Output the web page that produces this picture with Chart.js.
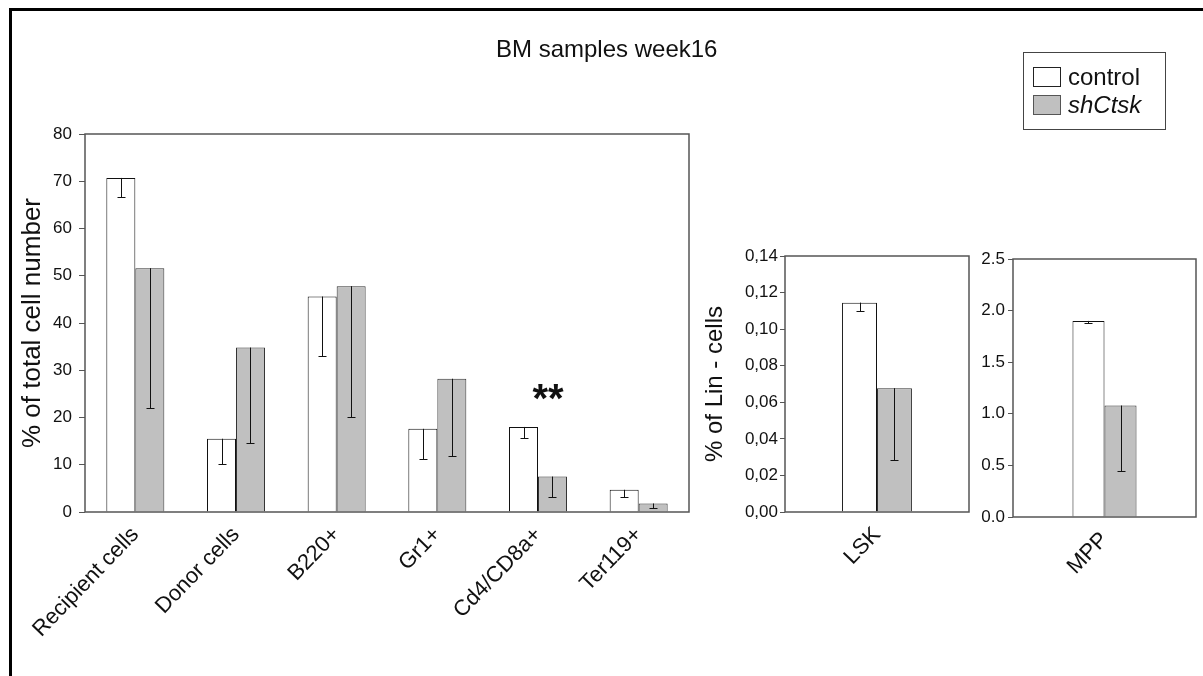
<!DOCTYPE html>
<html>
<head>
<meta charset="utf-8">
<script src="https://cdn.jsdelivr.net/npm/chart.js@4.4.0/dist/chart.umd.min.js"></script>
<style>
  html, body { margin: 0; padding: 0; background: #fff; }
  #page { position: relative; width: 1203px; height: 676px; overflow: hidden; font-family: "Liberation Sans", Arial, sans-serif; color: #111; }
  .layer { position: absolute; left: 0; top: 0; width: 1203px; height: 676px; }
  #frame { position: absolute; left: 9px; top: 8px; right: -5px; bottom: -5px; border-left: 3px solid #000; border-top: 3px solid #000; }
  #title { position: absolute; left: 496px; top: 37px; font-size: 24px; line-height: 1; white-space: nowrap; }
  #legend { position: absolute; left: 1023px; top: 52px; width: 143px; height: 78px; border: 1px solid #444; box-sizing: border-box; }
  .sw { position: absolute; left: 9px; width: 28px; height: 20px; box-sizing: border-box; border: 1px solid #222; }
  .lt { position: absolute; left: 44px; font-size: 24px; line-height: 1; white-space: nowrap; }
</style>
</head>
<body>
<div id="page">
  <div id="frame"></div>
  <div class="layer"><canvas id="mainChart" width="1203" height="676"></canvas></div>
  <div class="layer"><canvas id="lskChart" width="1203" height="676"></canvas></div>
  <div class="layer"><canvas id="mppChart" width="1203" height="676"></canvas></div>
  <div id="title">BM samples week16</div>
  <div id="legend">
    <div class="sw" style="top:14px;background:#fff"></div>
    <div class="lt" style="top:12px">control</div>
    <div class="sw" style="top:42px;background:#c0c0c0;border-color:#555"></div>
    <div class="lt" style="top:40px;font-style:italic">shCtsk</div>
  </div>
</div>
<script>
// main panel: % of total cell number
const categories = ["Recipient cells", "Donor cells", "B220+", "Gr1+", "Cd4/CD8a+", "Ter119+"];
const controlValues = [70.7, 15.5, 45.6, 17.6, 18.0, 4.7];
const controlLow = [66.7, 10.2, 33.0, 11.2, 15.7, 3.2];
const shCtskValues = [51.6, 34.8, 47.8, 28.2, 7.5, 1.8];
const shCtskLow = [22.0, 14.7, 20.2, 11.9, 3.2, 0.8];
const mainTicks = [0, 10, 20, 30, 40, 50, 60, 70, 80];
const sigIndex = 4;
const sigLabel = "**";
const sigValue = 25.5;

// LSK panel: % of Lin- cells
const lskCategories = ["LSK"];
const lskControl = [0.1145];
const lskControlLow = [0.1098];
const lskShCtsk = [0.0677];
const lskShCtskLow = [0.0284];

// MPP panel
const mppCategories = ["MPP"];
const mppControl = [1.90];
const mppControlLow = [1.88];
const mppShCtsk = [1.08];
const mppShCtskLow = [0.45];

const FONT = "'Liberation Sans', Arial, sans-serif";
Chart.defaults.font.family = FONT;
Chart.defaults.color = "#111";
Chart.defaults.animation = false;
Chart.defaults.responsive = false;

// one-sided (downward) error bars
const errorBars = {
  id: "errorBars",
  afterDatasetsDraw(chart) {
    const ctx = chart.ctx;
    const y = chart.scales.y;
    ctx.save();
    ctx.strokeStyle = "#111";
    ctx.lineWidth = 1;
    chart.data.datasets.forEach((ds, i) => {
      const meta = chart.getDatasetMeta(i);
      meta.data.forEach((bar, j) => {
        const low = ds.errLow[j];
        const x = Math.round(bar.x) + 0.5;
        const yl = Math.round(y.getPixelForValue(low)) + 0.5;
        ctx.beginPath();
        ctx.moveTo(x, bar.y);
        ctx.lineTo(x, yl);
        ctx.moveTo(x - 4, yl);
        ctx.lineTo(x + 4, yl);
        ctx.stroke();
      });
    });
    ctx.restore();
  }
};

// box round the plot area
const plotBox = {
  id: "plotBox",
  afterDraw(chart) {
    const a = chart.chartArea;
    const ctx = chart.ctx;
    ctx.save();
    ctx.strokeStyle = "#555";
    ctx.lineWidth = 1.5;
    ctx.strokeRect(a.left, a.top, a.right - a.left, a.bottom - a.top);
    ctx.restore();
  }
};

// significance stars
const sigMark = {
  id: "sigMark",
  afterDraw(chart) {
    if (chart.canvas.id !== "mainChart") return;
    const ctx = chart.ctx;
    ctx.save();
    ctx.font = "bold 40px " + FONT;
    ctx.textAlign = "center";
    ctx.textBaseline = "middle";
    ctx.fillStyle = "#111";
    ctx.fillText(sigLabel, chart.scales.x.getPixelForValue(sigIndex) + 10, chart.scales.y.getPixelForValue(sigValue) + 9);
    ctx.restore();
  }
};

function makeBars(ctrl, ctrlLow, sh, shLow) {
  return [
    { label: "control", data: ctrl, errLow: ctrlLow, backgroundColor: "#ffffff", borderColor: "#111", borderWidth: 1 },
    { label: "shCtsk", data: sh, errLow: shLow, backgroundColor: "#c0c0c0", borderColor: "#333", borderWidth: 1 }
  ];
}

function makeOptions(o) {
  return {
    layout: { padding: o.padding },
    plugins: { legend: { display: false }, tooltip: { enabled: false } },
    datasets: { bar: { categoryPercentage: o.catPct, barPercentage: 1.0 } },
    scales: {
      x: {
        grid: { display: false, drawTicks: false },
        border: { display: false },
        ticks: { font: { size: 22 }, color: "#111", minRotation: 46, maxRotation: 46, autoSkip: false, padding: o.xPad },
        afterFit: (s) => { s.height = o.xHeight; }
      },
      y: {
        min: o.min, max: o.max,
        grid: { drawOnChartArea: false, tickLength: o.tickLen, color: "#555" },
        border: { display: false },
        ticks: { stepSize: o.step, font: { size: 17 }, color: "#111", padding: o.tickPad, callback: o.fmt },
        title: o.title ? { display: true, text: o.title, font: { size: o.titleSize }, color: "#111", padding: 0 } : { display: false },
        afterFit: (s) => { s.width = o.yWidth; }
      }
    }
  };
}

new Chart(document.getElementById("mainChart"), {
  type: "bar",
  data: { labels: categories, datasets: makeBars(controlValues, controlLow, shCtskValues, shCtskLow) },
  options: makeOptions({
    padding: { left: 17, top: 134, right: 514, bottom: 0 },
    catPct: 0.576, xHeight: 164, xPad: 10,
    min: mainTicks[0], max: mainTicks[mainTicks.length - 1], step: 10,
    tickLen: 6, tickPad: 7, yWidth: 68,
    title: "% of total cell number", titleSize: 26,
    fmt: (v) => v
  }),
  plugins: [errorBars, plotBox, sigMark]
});

new Chart(document.getElementById("lskChart"), {
  type: "bar",
  data: { labels: lskCategories, datasets: makeBars(lskControl, lskControlLow, lskShCtsk, lskShCtskLow) },
  options: makeOptions({
    padding: { left: 701, top: 256, right: 234, bottom: 0 },
    catPct: 0.38, xHeight: 164, xPad: 10,
    min: 0, max: 0.14, step: 0.02,
    tickLen: 5, tickPad: 2, yWidth: 84,
    title: "% of Lin - cells", titleSize: 24,
    fmt: (v) => v.toFixed(2).replace(".", ",")
  }),
  plugins: [errorBars, plotBox]
});

new Chart(document.getElementById("mppChart"), {
  type: "bar",
  data: { labels: mppCategories, datasets: makeBars(mppControl, mppControlLow, mppShCtsk, mppShCtskLow) },
  options: makeOptions({
    padding: { left: 960, top: 259, right: 7, bottom: 0 },
    catPct: 0.35, xHeight: 159, xPad: 10,
    min: 0, max: 2.5, step: 0.5,
    tickLen: 5, tickPad: 3, yWidth: 53,
    title: null,
    fmt: (v) => v.toFixed(1)
  }),
  plugins: [errorBars, plotBox]
});
</script>
</body>
</html>
